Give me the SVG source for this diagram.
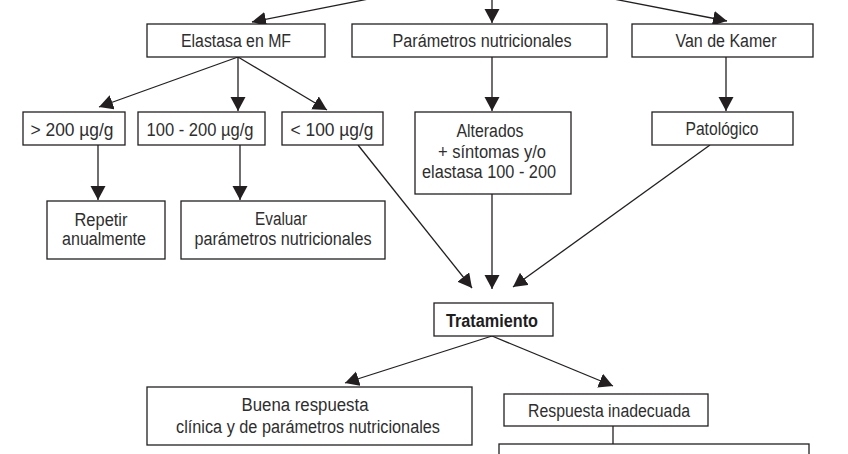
<svg xmlns="http://www.w3.org/2000/svg" width="848" height="454" viewBox="0 0 848 454">
<defs>
<marker id="ah" markerUnits="userSpaceOnUse" markerWidth="16" markerHeight="16" refX="14" refY="7.5" orient="auto">
<path d="M0,0 L14,7.5 L0,15 z" fill="#231f20"/>
</marker>
<style>
.box{fill:#fff;stroke:#231f20;stroke-width:1.3}
.t{font-family:"Liberation Sans",Arial,sans-serif;font-size:18px;fill:#2e2e2e;text-anchor:middle}
.b{font-weight:bold;fill:#1e1e1e}
.c{stroke:#231f20;stroke-width:1.3;fill:none}
.a{marker-end:url(#ah)}
</style>
</defs>
<rect width="848" height="454" fill="#fff"/>
<g id="connectors">
<line class="c a" x1="490" y1="-25" x2="252" y2="22"/>
<line class="c a" x1="492" y1="-5" x2="492" y2="23"/>
<line class="c a" x1="490" y1="-25" x2="727" y2="21"/>
<line class="c a" x1="238" y1="57" x2="99" y2="107"/>
<line class="c a" x1="238" y1="57" x2="238" y2="111"/>
<line class="c a" x1="238" y1="57" x2="327" y2="110"/>
<line class="c a" x1="492" y1="57" x2="492" y2="111"/>
<line class="c a" x1="726" y1="57" x2="726" y2="111"/>
<line class="c a" x1="98" y1="145" x2="98" y2="200"/>
<line class="c a" x1="240" y1="145" x2="240" y2="200"/>
<line class="c a" x1="358" y1="145" x2="472" y2="288"/>
<line class="c a" x1="492" y1="194" x2="492" y2="289"/>
<line class="c a" x1="710" y1="145" x2="513" y2="287"/>
<line class="c a" x1="492" y1="336" x2="345" y2="383"/>
<line class="c a" x1="492" y1="336" x2="613" y2="386"/>
<line class="c" x1="613" y1="426" x2="613" y2="444"/>
</g>
<g id="elastasa"><rect class="box" x="147" y="24" width="178" height="33"/><text class="t" x="236" y="47" textLength="110" lengthAdjust="spacingAndGlyphs">Elastasa en MF</text></g>
<g id="parametros"><rect class="box" x="352" y="24" width="255" height="33"/><text class="t" x="482" y="47" textLength="179" lengthAdjust="spacingAndGlyphs">Parámetros nutricionales</text></g>
<g id="vandekamer"><rect class="box" x="632" y="24" width="181" height="33"/><text class="t" x="726" y="47" textLength="101" lengthAdjust="spacingAndGlyphs">Van de Kamer</text></g>
<g id="mayor200"><rect class="box" x="23" y="112" width="102" height="33"/><text class="t" x="72" y="136" textLength="83" lengthAdjust="spacingAndGlyphs">&gt; 200 µg/g</text></g>
<g id="entre100y200"><rect class="box" x="138" y="112" width="127" height="33"/><text class="t" x="200" y="136" textLength="107" lengthAdjust="spacingAndGlyphs">100 - 200 µg/g</text></g>
<g id="menor100"><rect class="box" x="282" y="112" width="101" height="33"/><text class="t" x="332" y="136" textLength="83" lengthAdjust="spacingAndGlyphs">&lt; 100 µg/g</text></g>
<g id="alterados"><rect class="box" x="415" y="112" width="156" height="82"/>
<text class="t" x="490" y="137" textLength="67" lengthAdjust="spacingAndGlyphs">Alterados</text>
<text class="t" x="492" y="158" textLength="108" lengthAdjust="spacingAndGlyphs">+ síntomas y/o</text>
<text class="t" x="489" y="178" textLength="134" lengthAdjust="spacingAndGlyphs">elastasa 100 - 200</text></g>
<g id="patologico"><rect class="box" x="652" y="112" width="141" height="33"/><text class="t" x="722" y="135" textLength="73" lengthAdjust="spacingAndGlyphs">Patológico</text></g>
<g id="repetir"><rect class="box" x="47" y="201" width="118" height="58"/>
<text class="t" x="101" y="226" textLength="53" lengthAdjust="spacingAndGlyphs">Repetir</text>
<text class="t" x="104" y="245" textLength="84" lengthAdjust="spacingAndGlyphs">anualmente</text></g>
<g id="evaluar"><rect class="box" x="181" y="201" width="204" height="58"/>
<text class="t" x="281" y="225" textLength="52" lengthAdjust="spacingAndGlyphs">Evaluar</text>
<text class="t" x="283" y="245" textLength="177" lengthAdjust="spacingAndGlyphs">parámetros nutricionales</text></g>
<g id="tratamiento"><rect class="box" x="434" y="303" width="119" height="33"/><text class="t b" x="492" y="327" textLength="92" lengthAdjust="spacingAndGlyphs">Tratamiento</text></g>
<g id="buena"><rect class="box" x="147" y="387" width="325" height="58"/>
<text class="t" x="305" y="411" textLength="127" lengthAdjust="spacingAndGlyphs">Buena respuesta</text>
<text class="t" x="308" y="433" textLength="264" lengthAdjust="spacingAndGlyphs">clínica y de parámetros nutricionales</text></g>
<g id="inadecuada"><rect class="box" x="504" y="394" width="204" height="32"/><text class="t" x="609" y="417" textLength="162" lengthAdjust="spacingAndGlyphs">Respuesta inadecuada</text></g>
<g id="siguiente"><rect class="box" x="499" y="444" width="310" height="30"/></g>
</svg>
